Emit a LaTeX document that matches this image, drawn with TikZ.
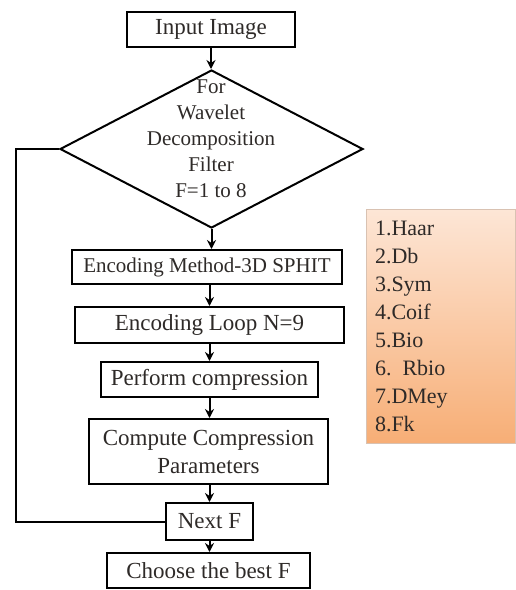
\documentclass[tikz,border=0pt]{standalone}
\usepackage{fontspec}
\setmainfont{Liberation Serif}
\newfontfamily\tms{Liberation Serif}
\usetikzlibrary{shapes.geometric,arrows.meta}
\definecolor{peachlight}{HTML}{FDE6D6}
\definecolor{peachdark}{HTML}{F7AE76}
\definecolor{peachedge}{HTML}{D9C2B2}
\definecolor{txt}{HTML}{2E2A28}
\begin{document}
\begin{tikzpicture}[x=1pt,y=-1pt,
  box/.style={draw,line width=2pt,inner sep=0pt,text=txt,font=\tms\fontsize{23}{28}\selectfont,align=center},
  arr/.style={line width=2pt,-{Stealth[length=9pt,width=9pt]}},
  ln/.style={line width=2pt},
  listbox/.style={draw=peachedge,line width=1pt,top color=peachlight,bottom color=peachdark,
    minimum width=149pt,minimum height=234pt,text width=131pt,inner xsep=9pt,align=left,text=txt,
    font=\tms\fontsize{22}{28}\selectfont}]
\useasboundingbox (0,0) rectangle (515,590);
\node[box,minimum width=168pt,minimum height=35pt] (in) at (211,29.5) {Input Image};
\node[draw,line width=2pt,diamond,minimum width=303pt,minimum height=158pt,inner sep=0pt] (dec) at (211.5,149) {};
\node[text=txt,font=\tms\fontsize{21}{26}\selectfont,align=center] (dectext) at (211,139) {For\\Wavelet\\Decomposition\\Filter\\F=1 to 8};
\node[box,minimum width=270pt,minimum height=34pt,font=\tms\fontsize{21}{26}\selectfont] (enc) at (207,267) {Encoding Method-3D SPHIT};
\node[box,minimum width=269pt,minimum height=36pt] (loop) at (209.5,325) {Encoding Loop N=9};
\node[box,minimum width=217pt,minimum height=35pt] (perf) at (209.5,379.5) {Perform compression};
\node[box,minimum width=239pt,minimum height=65pt] (comp) at (208.5,451.5) {Compute Compression\\Parameters};
\node[box,minimum width=87pt,minimum height=37pt] (next) at (209.5,521.5) {Next F};
\node[box,minimum width=203pt,minimum height=35pt] (best) at (208.5,570.5) {Choose the best F};
\node[listbox] (list) at (440.5,326) {1.Haar\\2.Db\\3.Sym\\4.Coif\\5.Bio\\6. Rbio\\7.DMey\\8.Fk};
\coordinate (lp) at (16,521.5);
\draw[arr] (in.south) -- (in.south |- dec.north);
\draw[arr] (dec.south) -- (dec.south |- enc.north);
\draw[arr] (enc.south -| loop.south) -- (loop.north);
\draw[arr] (loop.south) -- (loop.south |- perf.north);
\draw[arr] (perf.south) -- (perf.south |- comp.north);
\draw[arr] (comp.south -| next.north) -- (next.north);
\draw[arr] (next.south) -- (next.south |- best.north);
\draw[ln] (next.west) -- (lp) |- (dec.west);
\end{tikzpicture}
\end{document}
